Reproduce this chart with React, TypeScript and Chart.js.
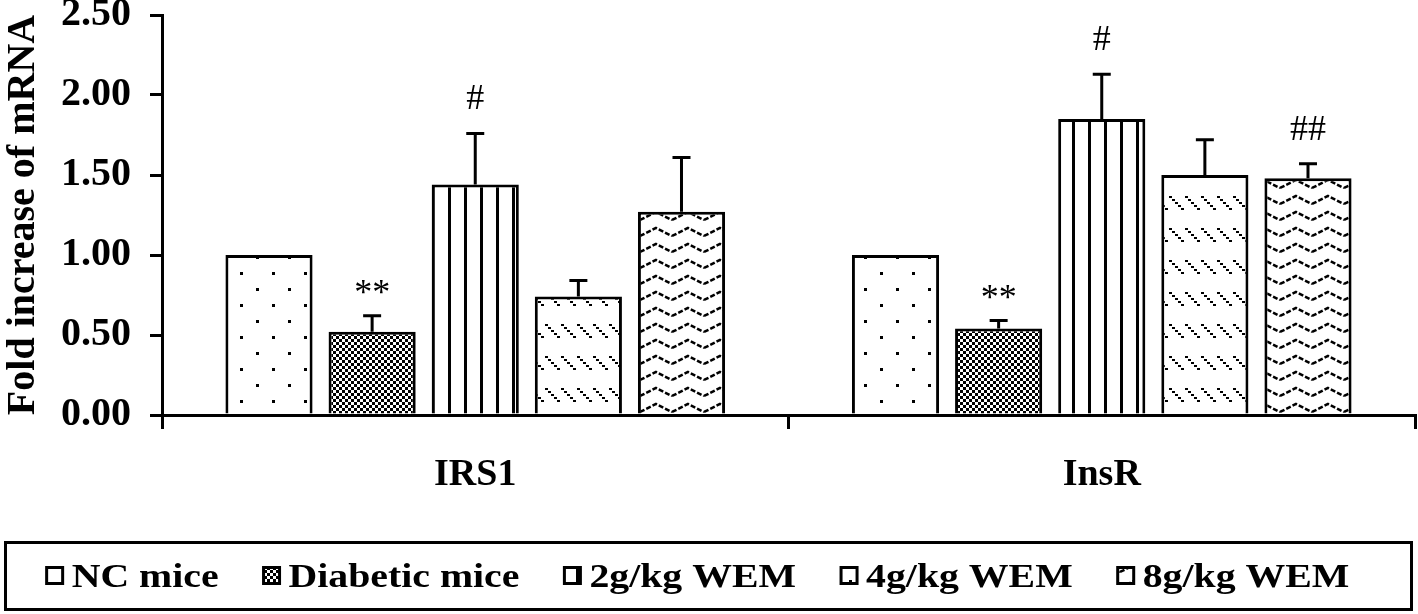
import React, { useEffect, useRef } from 'react';
import { Chart, registerables } from 'chart.js';

Chart.register(...registerables);

// ---- data ----
const categories = ['IRS1', 'InsR'];
const seriesLabels = ['NC mice', 'Diabetic mice', '2g/kg WEM', '4g/kg WEM', '8g/kg WEM'];

const ncValues = [1.0, 1.0];
const ncErrors = [0, 0];
const ncMarks = ['', ''];

const diabeticValues = [0.52, 0.54];
const diabeticErrors = [0.1, 0.05];
const diabeticMarks = ['**', '**'];

const wem2Values = [1.44, 1.85];
const wem2Errors = [0.32, 0.28];
const wem2Marks = ['#', '#'];

const wem4Values = [0.74, 1.5];
const wem4Errors = [0.1, 0.22];
const wem4Marks = ['', ''];

const wem8Values = [1.27, 1.48];
const wem8Errors = [0.34, 0.09];
const wem8Marks = ['', '##'];

const yMin = 0;
const yMax = 2.5;
const yStep = 0.5;
const yTitle = 'Fold increase of mRNA';

const FONT = "'Liberation Serif', 'Times New Roman', serif";

function makePattern(kind: string): CanvasPattern | string {
  const c = document.createElement('canvas');
  if (kind === 'dots') { c.width = 32; c.height = 32; }
  else if (kind === 'checker') { c.width = 6; c.height = 6; }
  else if (kind === 'vlines') { c.width = 16; c.height = 16; }
  else if (kind === 'diag') { c.width = 16; c.height = 32; }
  else { c.width = 32; c.height = 16; }
  const ctx = c.getContext('2d');
  if (!ctx) return '#fff';
  ctx.fillStyle = '#fff';
  ctx.fillRect(0, 0, c.width, c.height);
  ctx.fillStyle = '#000';
  ctx.strokeStyle = '#000';
  if (kind === 'dots') {
    ctx.fillRect(0, 0, 3, 3);
    ctx.fillRect(16, 16, 3, 3);
  } else if (kind === 'checker') {
    ctx.fillRect(0, 0, 3, 3);
    ctx.fillRect(3, 3, 3, 3);
  } else if (kind === 'vlines') {
    ctx.fillRect(0, 0, 3, 16);
  } else if (kind === 'diag') {
    for (let i = 0; i < 5; i++) ctx.fillRect(1 + i * 3, 4 + i * 3, 3, 2);
  } else {
    ctx.lineWidth = 2.5;
    ctx.setLineDash([5, 2]);
    ctx.beginPath();
    ctx.moveTo(0, 12);
    ctx.lineTo(16, 4);
    ctx.lineTo(32, 12);
    ctx.stroke();
  }
  const p = ctx.createPattern(c, 'repeat');
  return p || '#fff';
}

const errorBarPlugin = {
  id: 'errorBars',
  afterDatasetsDraw(chart: any) {
    const ctx = chart.ctx;
    const yScale = chart.scales.y;
    ctx.save();
    chart.data.datasets.forEach((ds: any, i: number) => {
      const meta = chart.getDatasetMeta(i);
      meta.data.forEach((el: any, j: number) => {
        const v = ds.data[j];
        const e = ds.errors ? ds.errors[j] : 0;
        const yTop = yScale.getPixelForValue(v);
        const yErr = yScale.getPixelForValue(v + e);
        if (e > 0) {
          ctx.strokeStyle = '#000';
          ctx.lineWidth = 3;
          ctx.beginPath();
          ctx.moveTo(el.x, yTop);
          ctx.lineTo(el.x, yErr);
          ctx.moveTo(el.x - 9, yErr);
          ctx.lineTo(el.x + 9, yErr);
          ctx.stroke();
        }
        const mark = ds.marks ? ds.marks[j] : '';
        if (mark) {
          ctx.fillStyle = '#000';
          ctx.font = `36px ${FONT}`;
          ctx.textAlign = 'center';
          ctx.textBaseline = 'alphabetic';
          const off = mark.indexOf('*') >= 0 ? 12 : 24;
          ctx.fillText(mark, el.x, yErr - off);
        }
      });
    });
    ctx.restore();
  },
};

const boxLegendPlugin = {
  id: 'boxLegend',
  afterDraw(chart: any) {
    const ctx = chart.ctx;
    const H = chart.height;
    const W = chart.width;
    const top = H - 72;
    const bottom = H - 5;
    ctx.save();
    ctx.strokeStyle = '#000';
    ctx.lineWidth = 3;
    ctx.strokeRect(5.5, top + 0.5, W - 12, bottom - top);
    const sx = 1.17;
    ctx.font = `bold 34px ${FONT}`;
    const icon = 16;
    const gapIcon = 9;
    const gapItem = 45;
    const ds = chart.data.datasets;
    const widths = ds.map((d: any) => ctx.measureText(d.label).width * sx);
    const total = widths.reduce((a: number, b: number) => a + b, 0) + ds.length * (icon + gapIcon) + (ds.length - 1) * gapItem;
    let x = 698 - total / 2;
    const cy = (top + bottom) / 2;
    ds.forEach((d: any, i: number) => {
      ctx.fillStyle = d.backgroundColor;
      ctx.fillRect(x, cy - icon / 2, icon, icon);
      ctx.lineWidth = 3;
      ctx.strokeStyle = '#000';
      ctx.strokeRect(x, cy - icon / 2, icon, icon);
      ctx.save();
      ctx.translate(x + icon + gapIcon, cy + 11);
      ctx.scale(sx, 1);
      ctx.fillStyle = '#000';
      ctx.textAlign = 'left';
      ctx.textBaseline = 'alphabetic';
      ctx.fillText(d.label, 0, 0);
      ctx.restore();
      x += icon + gapIcon + widths[i] + gapItem;
    });
    ctx.restore();
  },
};

export default function App() {
  const ref = useRef<HTMLCanvasElement | null>(null);

  useEffect(() => {
    if (!ref.current) return;
    const patterns = ['dots', 'checker', 'vlines', 'diag', 'zigzag'].map(makePattern);
    const values = [ncValues, diabeticValues, wem2Values, wem4Values, wem8Values];
    const errors = [ncErrors, diabeticErrors, wem2Errors, wem4Errors, wem8Errors];
    const marks = [ncMarks, diabeticMarks, wem2Marks, wem4Marks, wem8Marks];

    const datasets: any[] = seriesLabels.map((label, i) => ({
      label,
      data: values[i],
      errors: errors[i],
      marks: marks[i],
      backgroundColor: patterns[i],
      borderColor: '#000',
      borderWidth: 3,
      categoryPercentage: 0.823,
      barPercentage: 0.845,
    }));

    const chart = new Chart(ref.current, {
      type: 'bar',
      data: { labels: categories, datasets },
      options: {
        animation: false,
        responsive: false,
        devicePixelRatio: 1,
        layout: { padding: { top: 15, right: 3, left: 0, bottom: 0 } },
        plugins: {
          legend: { display: false },
          tooltip: { enabled: false },
        },
        scales: {
          x: {
            grid: {
              offset: true,
              drawOnChartArea: false,
              drawTicks: true,
              tickLength: 14,
              color: '#000',
              lineWidth: 3,
            },
            border: { color: '#000', width: 3 },
            ticks: {
              color: '#000',
              padding: 23,
              font: { family: FONT, size: 38, weight: 'bold' },
            },
            afterFit: (s: any) => {
              s.height = 199;
              s.paddingLeft = 0;
              s.paddingRight = 0;
            },
          },
          y: {
            min: yMin,
            max: yMax,
            grid: {
              drawOnChartArea: false,
              drawTicks: true,
              tickLength: 12,
              color: '#000',
              lineWidth: 3,
            },
            border: { color: '#000', width: 3 },
            ticks: {
              stepSize: yStep,
              color: '#000',
              padding: 19,
              font: { family: FONT, size: 40, weight: 'bold' },
              callback: (v: any) => Number(v).toFixed(2),
            },
            title: {
              display: true,
              text: yTitle,
              color: '#000',
              padding: 0,
              font: { family: FONT, size: 40, weight: 'bold' },
            },
            afterFit: (s: any) => {
              s.width = 162;
              s.paddingTop = 0;
              s.paddingBottom = 0;
            },
          },
        },
      } as any,
      plugins: [errorBarPlugin, boxLegendPlugin],
    });
    return () => chart.destroy();
  }, []);

  return (
    <div style={{ position: 'fixed', left: 0, top: 0, width: 1418, height: 614, background: '#fff' }}>
      <canvas ref={ref} width={1418} height={614} style={{ display: 'block' }} />
    </div>
  );
}
